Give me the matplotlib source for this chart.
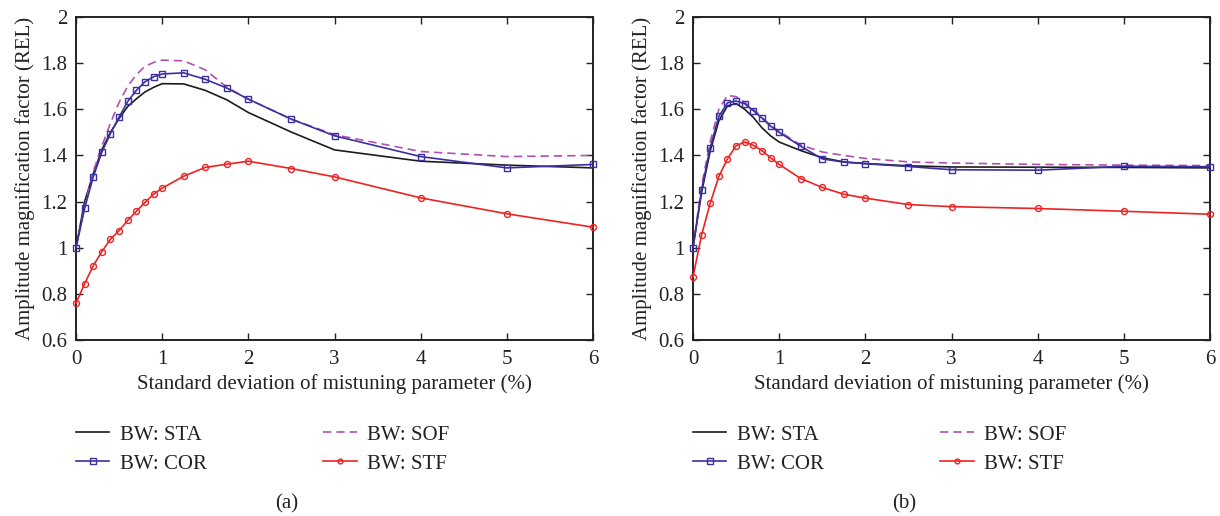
import numpy as np
import matplotlib
matplotlib.use("Agg")
import matplotlib.pyplot as plt

# Standard deviation of mistuning parameter (%)
x = [0, 0.1, 0.2, 0.3, 0.4, 0.5, 0.6, 0.7, 0.8, 0.9, 1.0,
     1.25, 1.5, 1.75, 2, 2.5, 3, 4, 5, 6]

# panel (a)
sta_a = [1.00, 1.20, 1.32, 1.425, 1.50, 1.56, 1.612, 1.645, 1.675, 1.695, 1.711,
         1.710, 1.682, 1.641, 1.586, 1.501, 1.424, 1.375, 1.358, 1.346]
cor_a = [1.00, 1.170, 1.307, 1.414, 1.495, 1.566, 1.634, 1.682, 1.719, 1.741, 1.753,
         1.758, 1.730, 1.692, 1.644, 1.557, 1.485, 1.395, 1.346, 1.361]
sof_a = [1.00, 1.18, 1.33, 1.44, 1.54, 1.63, 1.70, 1.75, 1.786, 1.803, 1.813,
         1.810, 1.771, 1.696, 1.644, 1.557, 1.490, 1.417, 1.395, 1.400]
stf_a = [0.760, 0.844, 0.922, 0.983, 1.037, 1.074, 1.118, 1.158, 1.196, 1.232, 1.258,
         1.310, 1.348, 1.362, 1.375, 1.343, 1.307, 1.216, 1.147, 1.089]

# panel (b)
sta_b = [1.00, 1.24, 1.42, 1.55, 1.615, 1.625, 1.600, 1.565, 1.520, 1.485, 1.458,
         1.421, 1.390, 1.372, 1.365, 1.355, 1.350, 1.349, 1.348, 1.346]
cor_b = [1.00, 1.251, 1.434, 1.569, 1.628, 1.636, 1.624, 1.594, 1.562, 1.527, 1.500,
         1.440, 1.385, 1.371, 1.364, 1.352, 1.338, 1.336, 1.353, 1.351]
sof_b = [1.00, 1.27, 1.46, 1.60, 1.660, 1.655, 1.630, 1.600, 1.565, 1.530, 1.505,
         1.445, 1.415, 1.400, 1.387, 1.372, 1.367, 1.361, 1.358, 1.356]
stf_b = [0.873, 1.056, 1.193, 1.309, 1.385, 1.442, 1.458, 1.444, 1.421, 1.390, 1.361,
         1.300, 1.261, 1.232, 1.215, 1.187, 1.178, 1.170, 1.158, 1.145]

labels = ["BW: STA", "BW: COR", "BW: SOF", "BW: STF"]
xticks = [0, 1, 2, 3, 4, 5, 6]
yticks = [0.6, 0.8, 1.0, 1.2, 1.4, 1.6, 1.8, 2.0]
yticklabels = ["0.6", "0.8", "1", "1.2", "1.4", "1.6", "1.8", "2"]

plt.rcParams["font.family"] = ["Liberation Serif", "DejaVu Serif"]
plt.rcParams["font.size"] = 15

W, H = 1220, 516
fig = plt.figure(figsize=(W / 100, H / 100), dpi=100)
txt = "#222222"

def draw_panel(left_px, sta, cor, sof, stf, tag):
    ax = fig.add_axes([left_px / W, (H - 340) / H, 517 / W, 323 / H])
    h1, = ax.plot(x, sta, color="#1c1c1c", lw=1.2)
    h2, = ax.plot(x, cor, color="#3a30a0", lw=1.2, marker="s", ms=5,
                  mfc="none", mec="#3a30a0", mew=1.0, clip_on=False, zorder=3)
    h3, = ax.plot(x, sof, color="#b050b0", lw=1.2, ls=(0, (5, 3)))
    h4, = ax.plot(x, stf, color="#ee2222", lw=1.2, marker="o", ms=4.3,
                  mfc="none", mec="#ee2222", mew=1.0, clip_on=False, zorder=3)
    ax.set_xlim(0, 6)
    ax.set_ylim(0.6, 2.0)
    ax.set_xticks(xticks)
    ax.set_yticks(yticks)
    ax.set_yticklabels(yticklabels)
    ax.tick_params(direction="in", top=True, right=True, length=5, width=1.0,
                   labelsize=15, pad=6, colors=txt)
    ax.tick_params(axis="x", pad=7)
    for s in ax.spines.values():
        s.set_linewidth(1.4)
        s.set_color(txt)
    ax.set_xlabel("Standard deviation of mistuning parameter (%)", fontsize=15,
                  labelpad=4, color=txt)
    ax.set_ylabel("Amplitude magnification factor (REL)", fontsize=15,
                  labelpad=5, color=txt)
    leg = ax.legend([h1, h2, h3, h4], labels, ncol=2, frameon=False,
                    loc="upper left",
                    bbox_to_anchor=(left_px / W, (H - 425) / H),
                    bbox_transform=fig.transFigure,
                    borderaxespad=0, borderpad=0, handlelength=1.6,
                    handletextpad=0.5, columnspacing=5.6, labelspacing=0.45,
                    fontsize=15, markerscale=0.8)
    for t in leg.get_texts():
        t.set_color(txt)
    fig.text((left_px + 211) / W, (H - 504) / H, tag, ha="center", va="center",
             fontsize=15, color=txt)
    return ax

draw_panel(76, sta_a, cor_a, sof_a, stf_a, "(a)")
draw_panel(693, sta_b, cor_b, sof_b, stf_b, "(b)")

fig.savefig("out.png", dpi=100)
